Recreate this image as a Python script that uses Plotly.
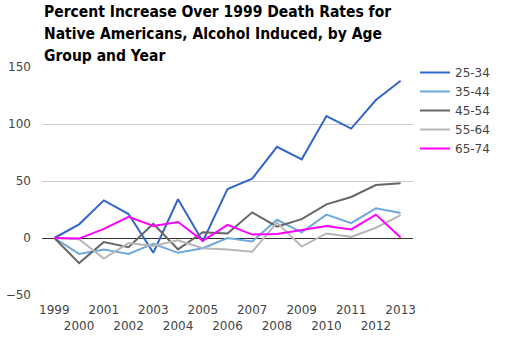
import plotly.graph_objects as go

years = [str(y) for y in range(1999, 2014)]
s25_34 = [0, 12, 33, 21, -13, 34, -3, 43, 52, 80, 69, 107, 96, 121, 138]
s35_44 = [0, -14, -10, -14, -5, -13, -9, 0, -3, 16, 5, 20.5, 13, 26, 22]
s45_54 = [0, -22, -3.5, -8, 12.5, -10, 5, 4, 22.5, 10, 16.5, 29.5, 36, 46.5, 48]
s55_64 = [0, -1, -18, -4.5, -7, -2, -9, -10, -12, 13.5, -7.5, 4, 1, 9, 20]
s65_74 = [0, -0.5, 8, 18.5, 10.5, 14, -2.5, 11.5, 3, 3.5, 7, 10.5, 7.5, 20.5, 0.5]

title_lines = ["Percent Increase Over 1999 Death Rates for",
               "Native Americans, Alcohol Induced, by Age",
               "Group and Year"]

series = [
    ("25-34", s25_34, "#3366cc"),
    ("35-44", s35_44, "#6fa8dc"),
    ("45-54", s45_54, "#666666"),
    ("55-64", s55_64, "#b7b7b7"),
    ("65-74", s65_74, "#ff00ff"),
]

W, H = 505, 343
ML, MR, MT, MB = 42, 92, 67, 48
PH = H - MT - MB

fig = go.Figure()
for name, vals, col in series:
    fig.add_trace(go.Scatter(x=years, y=vals, mode="lines", name=name,
                             line=dict(color=col, width=2)))

ticktext = [y if i % 2 == 0 else "<br>" + y for i, y in enumerate(years)]

annotations = []
for i, line in enumerate(title_lines):
    ypx = 12 + 22 * i
    annotations.append(dict(
        text=line, xref="paper", yref="paper",
        x=0, xanchor="left", y=(H - MB - ypx) / PH, yanchor="middle",
        showarrow=False,
        font=dict(family="DejaVu Sans Condensed, DejaVu Sans", size=15.5,
                  color="#000000", weight="bold"),
    ))

fig.update_layout(
    width=W, height=H,
    margin=dict(l=ML, r=MR, t=MT, b=MB),
    paper_bgcolor="white", plot_bgcolor="white",
    font=dict(family="DejaVu Sans", size=12, color="#444444"),
    annotations=annotations,
    showlegend=True,
    legend=dict(xref="container", yref="container",
                x=415 / W, xanchor="left", y=1 - 58 / H, yanchor="top",
                font=dict(size=12, color="#444444"),
                tracegroupgap=0, itemwidth=30, bgcolor="rgba(0,0,0,0)"),
    xaxis=dict(type="category", range=[-0.5, 14.5], tickmode="array",
               tickvals=years, ticktext=ticktext, showgrid=False,
               tickangle=0, ticks="", showline=False, zeroline=False,
               ticklabelstandoff=6, automargin=False,
               tickfont=dict(size=12, color="#444444")),
    yaxis=dict(range=[-50, 150], tickvals=[-50, 0, 50, 100, 150],
               showgrid=True, gridcolor="#cccccc", gridwidth=1,
               zeroline=True, zerolinecolor="#333333", zerolinewidth=1,
               ticks="", ticklabelstandoff=10, automargin=False,
               tickfont=dict(size=12, color="#444444")),
)

fig.write_html("out.html")
